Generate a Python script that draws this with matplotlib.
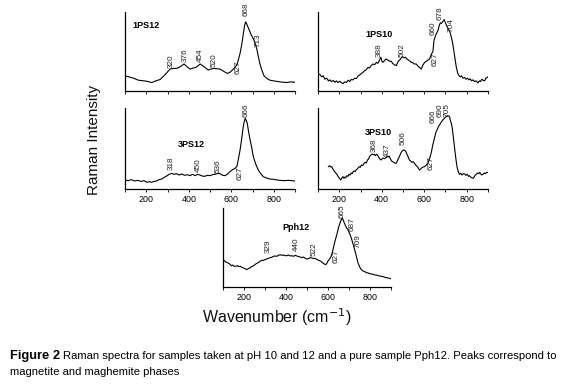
import matplotlib
matplotlib.use("Agg")
import matplotlib.pyplot as plt
from matplotlib import font_manager

names = {f.name for f in font_manager.fontManager.ttflist}
BASE = 'Liberation Sans'
NARROW = 'Liberation Sans Narrow' if 'Liberation Sans Narrow' in names else BASE
plt.rcParams['font.family'] = [BASE, 'DejaVu Sans']

# ---------------- data (wavenumber, intensity a.u.) ----------------
p1_wn = [100, 140, 163, 190, 210, 225, 245, 265, 288, 312, 330, 343, 360, 378, 392, 406, 420, 434, 446,
         454, 465, 476, 492, 505, 516, 530, 547, 565, 582, 595, 602, 615, 627, 641, 650, 657, 663, 668,
         675, 685, 695, 704, 713, 720, 728, 735, 745, 754, 768, 782, 800, 829, 845, 860, 880, 900]
p1_int = [45, 38, 32, 30, 28, 25, 30, 34, 48, 65, 67, 67, 72, 80, 72, 65, 68, 70, 76,
          80, 75, 70, 62, 65, 67, 66, 65, 58, 52, 56, 60, 68, 78, 110, 140, 170, 195, 205,
          195, 180, 165, 155, 140, 125, 100, 80, 60, 45, 37, 32, 30, 27, 26, 25, 27, 26]

p2_wn = [100, 110, 118, 125, 132, 141, 149, 156, 163, 172, 180, 187, 194, 203, 211, 218, 225, 233, 242,
         249, 256, 264, 273, 281, 289, 297, 305, 311, 319, 326, 335, 342, 351, 359, 367, 375, 382, 390,
         396, 401, 406, 413, 420, 425, 432, 438, 445, 451, 459, 469, 475, 480, 485, 492, 497, 505, 512,
         518, 525, 533, 539, 546, 553, 562, 570, 577, 586, 592, 602, 610, 618, 625, 633, 641, 646, 652,
         657, 665, 671, 676, 681, 685, 690, 693, 698, 704, 710, 716, 722, 728, 734, 739, 745, 751, 758,
         764, 770, 775, 782, 790, 796, 803, 810, 816, 823, 829, 837, 844, 853, 859, 865, 871, 876, 884,
         890, 896, 900]
p2_int = [52, 48, 42, 45, 35, 38, 30, 33, 28, 31, 26, 30, 25, 29, 24, 22, 27, 25, 32,
          28, 34, 33, 38, 37, 45, 48, 52, 55, 60, 62, 70, 68, 76, 80, 78, 85, 82, 92,
          100, 88, 85, 90, 95, 93, 90, 88, 88, 82, 78, 75, 85, 90, 92, 98, 102, 98, 100,
          95, 92, 88, 85, 84, 80, 80, 74, 70, 65, 75, 85, 88, 92, 95, 108, 118, 150, 162,
          170, 180, 195, 202, 200, 204, 208, 212, 205, 195, 188, 180, 172, 158, 140, 120, 95, 70, 52,
          45, 42, 45, 38, 40, 35, 38, 33, 36, 30, 33, 28, 30, 24, 30, 28, 35, 32, 30,
          38, 40, 42]

p3_wn = [100, 115, 130, 145, 160, 175, 190, 202, 215, 225, 237, 249, 260, 273, 285, 296, 308, 320, 330,
         343, 355, 368, 380, 393, 406, 418, 430, 441, 452, 463, 475, 488, 500, 512, 524, 536, 547, 560,
         571, 583, 594, 606, 618, 627, 633, 641, 649, 655, 660, 666, 671, 676, 682, 688, 696, 704, 715,
         727, 740, 751, 765, 782, 800, 815, 829, 850, 870, 900]
p3_int = [27, 25, 28, 24, 26, 23, 25, 20, 22, 20, 23, 24, 28, 30, 35, 39, 44, 47, 44,
          46, 42, 45, 41, 43, 40, 44, 40, 44, 42, 39, 38, 41, 40, 43, 44, 47, 46, 41,
          40, 45, 52, 58, 62, 68, 88, 115, 150, 180, 200, 212, 205, 195, 170, 150, 125, 97, 75,
          57, 45, 37, 33, 30, 29, 27, 26, 25, 26, 24]

p4_wn = [149, 155, 160, 165, 170, 176, 181, 186, 191, 196, 201, 207, 212, 218, 222, 227, 231, 236, 241,
         246, 251, 256, 261, 266, 270, 275, 280, 285, 290, 294, 299, 304, 310, 317, 322, 327, 333, 338,
         343, 349, 355, 360, 365, 370, 375, 380, 385, 391, 396, 401, 407, 413, 420, 426, 430, 435, 440,
         445, 451, 456, 461, 467, 472, 477, 483, 490, 496, 502, 508, 514, 520, 525, 530, 536, 542, 548,
         554, 560, 566, 571, 577, 583, 589, 595, 601, 607, 612, 617, 622, 628, 634, 640, 646, 651, 656,
         662, 667, 672, 677, 682, 687, 692, 697, 703, 707, 711, 715, 719, 723, 727, 732, 737, 743, 748,
         754, 760, 766, 772, 778, 784, 790, 796, 802, 808, 813, 818, 824, 829, 835, 840, 845, 850, 856,
         861, 866, 871, 876, 882, 888, 894, 900]
p4_int = [67, 70, 66, 67, 60, 54, 50, 46, 42, 36, 32, 27, 33, 37, 32, 36, 34, 40, 38,
          44, 42, 48, 46, 52, 54, 52, 58, 60, 64, 67, 65, 72, 70, 77, 80, 78, 87, 90,
          98, 102, 105, 103, 104, 100, 104, 102, 96, 90, 87, 90, 93, 91, 94, 98, 96, 99, 92,
          85, 82, 80, 78, 77, 82, 90, 97, 108, 114, 117, 116, 112, 102, 95, 87, 84, 80, 82,
          77, 72, 68, 64, 57, 60, 64, 66, 67, 70, 74, 77, 86, 97, 112, 132, 148, 160, 172,
          180, 188, 192, 198, 202, 207, 210, 214, 217, 218, 220, 219, 217, 205, 198, 182, 155, 122, 95,
          67, 52, 44, 47, 42, 46, 45, 41, 44, 38, 40, 36, 34, 32, 36, 42, 44, 48, 46,
          50, 45, 42, 44, 48, 46, 50, 49]

p5_wn = [100, 106, 112, 118, 124, 130, 135, 140, 146, 152, 158, 164, 170, 176, 182, 188, 194, 200, 206,
         212, 218, 223, 228, 234, 240, 246, 252, 258, 264, 270, 276, 284, 292, 300, 308, 316, 324, 332,
         340, 348, 356, 364, 372, 380, 388, 396, 404, 412, 420, 428, 436, 444, 452, 460, 468, 476, 484,
         492, 500, 508, 516, 524, 532, 540, 548, 556, 564, 572, 580, 588, 594, 599, 605, 610, 615, 621,
         626, 631, 637, 644, 650, 657, 662, 668, 674, 681, 688, 695, 703, 711, 719, 727, 735, 743, 751,
         759, 767, 775, 783, 791, 799, 807, 815, 823, 831, 839, 847, 855, 863, 871, 879, 887, 894, 900]
p5_int = [77, 80, 75, 74, 72, 70, 67, 64, 66, 62, 63, 62, 64, 61, 62, 60, 58, 56, 55,
          52, 54, 56, 57, 60, 62, 64, 67, 70, 72, 74, 77, 80, 80, 82, 84, 86, 88, 89,
          92, 93, 92, 95, 97, 95, 96, 94, 94, 96, 93, 94, 92, 95, 93, 91, 90, 88, 90,
          86, 84, 86, 88, 87, 85, 86, 82, 80, 78, 74, 70, 67, 70, 77, 82, 86, 92, 105,
          118, 132, 146, 162, 178, 192, 200, 207, 198, 187, 178, 172, 160, 147, 130, 112, 92, 72, 60,
          52, 48, 46, 43, 42, 40, 39, 38, 36, 36, 34, 33, 32, 31, 29, 28, 27, 26, 24]

# peak annotations: (text, wavenumber position, intensity anchor, vertical alignment)
p1_peaks = [("320", 316, 68, 'bottom'), ("376", 382, 85, 'bottom'), ("454", 456, 85, 'bottom'),
            ("520", 519, 70, 'bottom'), ("627", 633, 90, 'top'), ("668", 668, 222, 'bottom'),
            ("713", 727, 130, 'bottom')]
p2_peaks = [("388", 390, 100, 'bottom'), ("502", 497, 100, 'bottom'), ("627", 650, 115, 'top'),
            ("660", 644, 165, 'bottom'), ("678", 674, 210, 'bottom'), ("704", 725, 175, 'bottom')]
p3_peaks = [("318", 316, 57, 'bottom'), ("450", 445, 52, 'bottom'), ("536", 539, 47, 'bottom'),
            ("627", 641, 67, 'top'), ("666", 668, 217, 'bottom')]
p4_peaks = [("368", 365, 112, 'bottom'), ("437", 428, 97, 'bottom'), ("506", 502, 132, 'bottom'),
            ("627", 632, 97, 'top'), ("666", 642, 197, 'bottom'), ("690", 676, 217, 'bottom'),
            ("705", 709, 217, 'bottom')]
p5_peaks = [("329", 316, 102, 'bottom'), ("440", 449, 107, 'bottom'), ("522", 532, 92, 'bottom'),
            ("627", 641, 112, 'top'), ("665", 668, 207, 'bottom'), ("687", 716, 167, 'bottom'),
            ("709", 743, 117, 'bottom')]

panels = [
    # name, wn, intensity, peaks, ylim top, title pos (wn, int)
    ("1PS12", p1_wn, p1_int, p1_peaks, 234, (135, 195)),
    ("1PS10", p2_wn, p2_int, p2_peaks, 234, (322, 168)),
    ("3PS12", p3_wn, p3_int, p3_peaks, 243, (348, 133)),
    ("3PS10", p4_wn, p4_int, p4_peaks, 243, (322, 170)),
    ("Pph12", p5_wn, p5_int, p5_peaks, 237, (385, 180)),
]
show_labels = [False, False, True, True, True]

tick_positions = [100, 200, 300, 400, 500, 600, 700, 800, 900]
tick_labels = ["", "200", "", "400", "", "600", "", "800", ""]

W, H = 580, 388
fig = plt.figure(figsize=(W / 100, H / 100), dpi=100)
fig.patch.set_facecolor('white')

# axes rectangles in pixels (left, top, right, bottom)
rects = [(125, 12, 295, 91), (318, 12, 488, 91), (125, 108, 295, 189),
         (318, 108, 488, 189), (223, 208, 391, 287)]

for (name, wn, inten, peaks, ytop, tpos), rect, lab in zip(panels, rects, show_labels):
    l, t, r, b = rect
    ax = fig.add_axes([l / W, 1 - b / H, (r - l) / W, (b - t) / H])
    ax.plot(wn, inten, color='black', lw=0.8)
    ax.set_xlim(100, 900)
    ax.set_ylim(0, ytop)
    for s in ('top', 'right'):
        ax.spines[s].set_visible(False)
    for s in ('left', 'bottom'):
        ax.spines[s].set_linewidth(0.9)
    ax.set_yticks([])
    ax.set_xticks(tick_positions)
    ax.set_xticklabels(tick_labels if lab else [""] * len(tick_positions))
    ax.tick_params(axis='x', direction='out', length=2.5, width=0.6, pad=2,
                   labelsize=6.4, colors='black')
    ax.patch.set_alpha(0)
    ax.text(tpos[0], tpos[1], name, fontsize=6.5, fontweight='bold', ha='left', va='center')
    for txt, x, y, va in peaks:
        ax.text(x, y, txt, rotation=90, fontsize=5.9, color='#222222',
                ha='center', va=va, clip_on=False)

fig.text(94 / W, 1 - 140 / H, "Raman Intensity", rotation=90, fontsize=11,
         family=[NARROW, 'DejaVu Sans'], ha='center', va='center', color='#111111')
fig.text(277 / W, 1 - 317 / H, "Wavenumber (cm$^{-1}$)", fontsize=11.5,
         family=[NARROW, 'DejaVu Sans'], ha='center', va='center', color='#111111')

fig.text(10 / W, 1 - 356 / H, "Figure 2", fontsize=9.3, fontweight='bold', ha='left', va='center')
fig.text(63 / W, 1 - 356 / H,
         "Raman spectra for samples taken at pH 10 and 12 and a pure sample Pph12. Peaks correspond to",
         fontsize=8.1, ha='left', va='center')
fig.text(10 / W, 1 - 372 / H, "magnetite and maghemite phases", fontsize=8.1, ha='left', va='center')

fig.savefig("out.png", dpi=100, facecolor='white')
